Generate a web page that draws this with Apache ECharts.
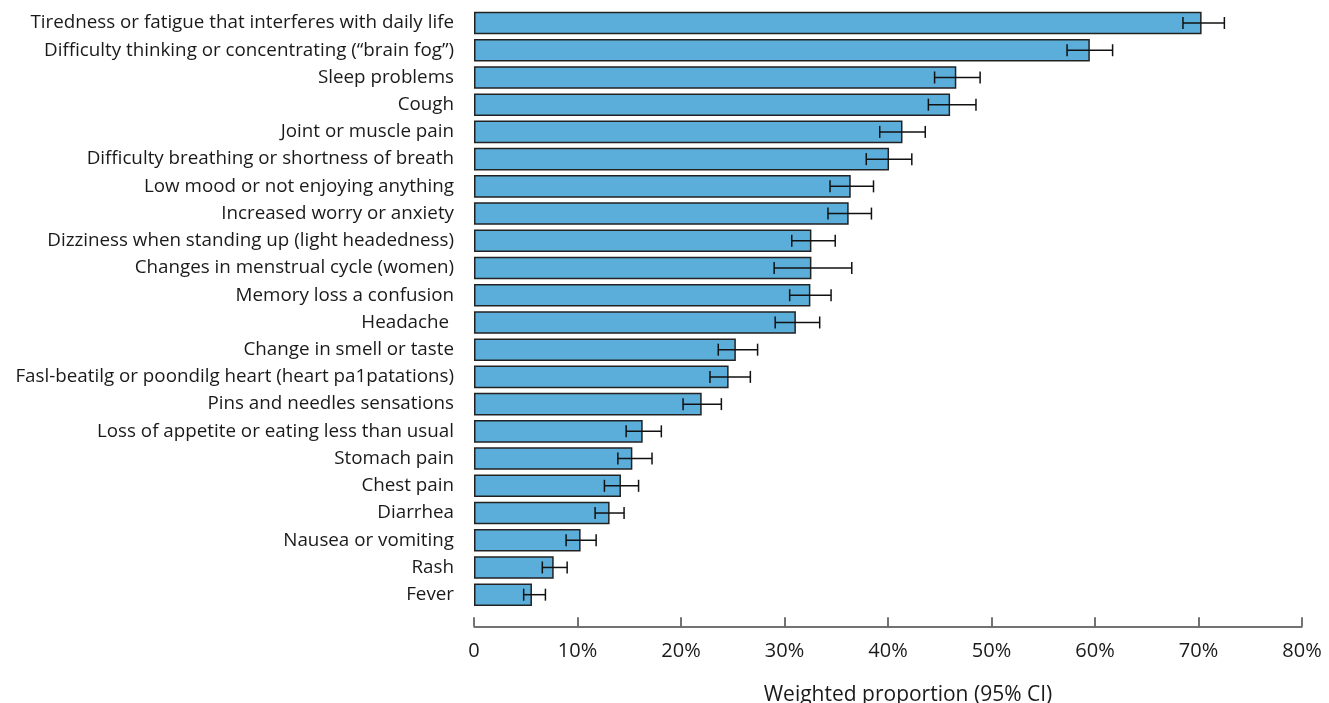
<!DOCTYPE html>
<html>
<head>
<meta charset="utf-8">
<script src="https://cdn.jsdelivr.net/npm/echarts@6/dist/echarts.min.js"></script>
<style>
  html, body { margin: 0; padding: 0; background: #ffffff; }
  #chart { width: 1329px; height: 703px; }
</style>
</head>
<body>
<div id="chart"></div>
<script>
// Symptoms, listed top to bottom
const symptoms = [
  'Tiredness or fatigue that interferes with daily life',
  'Difficulty thinking or concentrating (\u201cbrain fog\u201d)',
  'Sleep problems',
  'Cough',
  'Joint or muscle pain',
  'Difficulty breathing or shortness of breath',
  'Low mood or not enjoying anything',
  'Increased worry or anxiety',
  'Dizziness when standing up (light headedness)',
  'Changes in menstrual cycle (women)',
  'Memory loss a confusion',
  'Headache ',
  'Change in smell or taste',
  'Fasl-beatilg or poondilg heart (heart pa1patations)',
  'Pins and needles sensations',
  'Loss of appetite or eating less than usual',
  'Stomach pain',
  'Chest pain',
  'Diarrhea',
  'Nausea or vomiting',
  'Rash',
  'Fever'
];

// Weighted proportion (%)
const proportion = [70.3, 59.5, 46.6, 46.0, 41.4, 40.1, 36.4, 36.2, 32.6, 32.6, 32.5, 31.1,
                    25.3, 24.6, 22.0, 16.3, 15.3, 14.2, 13.1, 10.3, 7.7, 5.6];
// 95% CI lower bound (%)
const ciLower = [68.5, 57.3, 44.5, 43.9, 39.2, 37.9, 34.4, 34.2, 30.7, 29.0, 30.5, 29.1,
                 23.6, 22.8, 20.2, 14.7, 13.9, 12.6, 11.7, 8.9, 6.6, 4.8];
// 95% CI upper bound (%)
const ciUpper = [72.5, 61.7, 48.9, 48.5, 43.6, 42.3, 38.6, 38.4, 34.9, 36.5, 34.5, 33.4,
                 27.4, 26.7, 23.9, 18.1, 17.2, 15.9, 14.5, 11.8, 9.0, 6.9];

const FONT = '"Open Sans", "Noto Sans", sans-serif';

const chart = echarts.init(document.getElementById('chart'), null, { renderer: 'canvas' });

const errorData = symptoms.map((s, i) => [i, ciLower[i], ciUpper[i]]);

chart.setOption({
  animation: false,
  title: {
    text: 'Weighted proportion (95% CI)',
    left: 903,
    top: 680,
    textAlign: 'center',
    textStyle: { fontFamily: FONT, fontSize: 21, fontWeight: 'normal', color: '#1a1a1a' }
  },
  grid: { left: 474, right: 27, top: 9.4, bottom: 94.7, containLabel: false },
  xAxis: {
    type: 'value',
    min: 0,
    max: 80,
    interval: 10,
    offset: 18,
    splitLine: { show: false },
    axisLine: { show: true, lineStyle: { color: '#444', width: 1.5 } },
    axisTick: { show: true, inside: true, length: 9, lineStyle: { color: '#444', width: 1.5 } },
    axisLabel: {
      margin: 15,
      fontFamily: FONT,
      fontSize: 20,
      color: '#1a1a1a',
      formatter: v => (v === 0 ? '0' : v + '%')
    }
  },
  yAxis: {
    type: 'category',
    data: symptoms,
    inverse: true,
    axisLine: { show: false },
    axisTick: { show: false },
    axisLabel: { margin: 20, fontFamily: FONT, fontSize: 18.8, color: '#1a1a1a' }
  },
  series: [
    {
      type: 'bar',
      data: proportion,
      barWidth: '83%',
      itemStyle: { color: '#5baed9', borderColor: '#222', borderWidth: 1.5 }
    },
    {
      type: 'custom',
      data: errorData,
      z: 5,
      renderItem: function (params, api) {
        const idx = api.value(0);
        const lo = api.coord([api.value(1), idx]);
        const hi = api.coord([api.value(2), idx]);
        const y = lo[1];
        const cap = 6;
        const style = { stroke: '#111', lineWidth: 1.5, fill: null };
        return {
          type: 'group',
          children: [
            { type: 'line', shape: { x1: lo[0], y1: y, x2: hi[0], y2: y }, style: style },
            { type: 'line', shape: { x1: lo[0], y1: y - cap, x2: lo[0], y2: y + cap }, style: style },
            { type: 'line', shape: { x1: hi[0], y1: y - cap, x2: hi[0], y2: y + cap }, style: style }
          ]
        };
      }
    }
  ]
});
</script>
</body>
</html>
